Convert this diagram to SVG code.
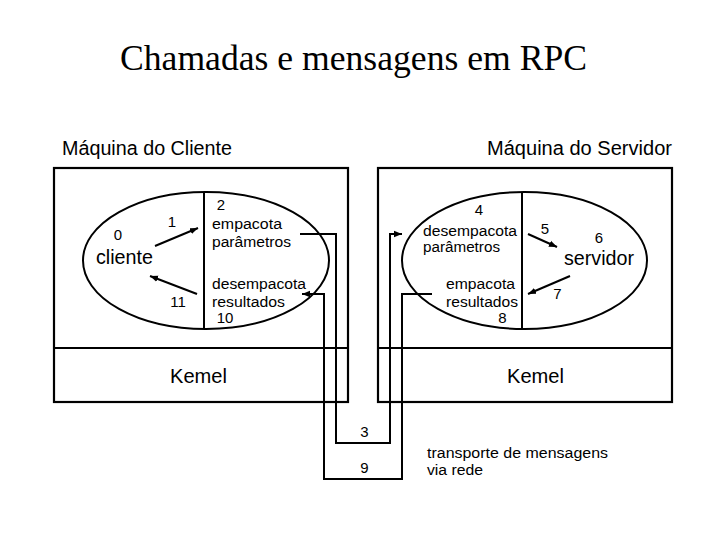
<svg xmlns="http://www.w3.org/2000/svg" width="720" height="540" viewBox="0 0 720 540">
<style>
.box{fill:none;stroke:#000;stroke-width:2.2}
.ln{fill:none;stroke:#000;stroke-width:2}
.t{font-family:"Liberation Sans",Arial,sans-serif;fill:#000}
.s{font-size:15.5px}
.d{font-size:15px}
.l{font-size:20px}
.title{font-family:"Liberation Serif","Times New Roman",serif;font-size:36px;fill:#000}
</style>
<defs>
<marker id="ah" markerUnits="userSpaceOnUse" markerWidth="9" markerHeight="8" refX="8" refY="4" orient="auto">
<path d="M0,0.8 L8,4 L0,7.2 Z" fill="#000"/>
</marker>
</defs>
<rect width="720" height="540" fill="#fff"/>
<g id="title"><text class="title" x="120" y="70" textLength="467" lengthAdjust="spacingAndGlyphs">Chamadas e mensagens em RPC</text></g>
<g id="client-machine">
<text class="t l" x="62" y="155" textLength="170" lengthAdjust="spacingAndGlyphs">Máquina do Cliente</text>
<rect class="box" x="54" y="168" width="294" height="234"/>
</g>
<g id="server-machine">
<text class="t l" x="487" y="155" textLength="185" lengthAdjust="spacingAndGlyphs">Máquina do Servidor</text>
<rect class="box" x="378" y="168" width="294" height="234"/>
</g>
<g id="client-kernel">
<line class="box" x1="54" y1="348" x2="348" y2="348"/>
<text class="t l" x="170" y="383" textLength="57" lengthAdjust="spacingAndGlyphs">Kemel</text>
</g>
<g id="server-kernel">
<line class="box" x1="378" y1="348" x2="672" y2="348"/>
<text class="t l" x="507" y="383" textLength="57" lengthAdjust="spacingAndGlyphs">Kemel</text>
</g>
<g id="client-process">
<ellipse class="ln" cx="206" cy="260.5" rx="123" ry="68.5"/>
<line class="ln" x1="204" y1="192" x2="204" y2="329"/>
<text class="t d" x="118" y="240" text-anchor="middle">0</text>
<text class="t l" x="96" y="264" textLength="57" lengthAdjust="spacingAndGlyphs">cliente</text>
<text class="t d" x="172" y="227" text-anchor="middle">1</text>
<text class="t d" x="178" y="307" text-anchor="middle">11</text>
</g>
<g id="client-stub">
<text class="t d" x="221" y="210" text-anchor="middle">2</text>
<text class="t s" x="212" y="229" textLength="70" lengthAdjust="spacingAndGlyphs">empacota</text>
<text class="t s" x="212" y="247" textLength="79" lengthAdjust="spacingAndGlyphs">parâmetros</text>
<text class="t s" x="212" y="289" textLength="94" lengthAdjust="spacingAndGlyphs">desempacota</text>
<text class="t s" x="212" y="307" textLength="73" lengthAdjust="spacingAndGlyphs">resultados</text>
<text class="t d" x="225" y="323" text-anchor="middle">10</text>
</g>
<g id="server-stub">
<ellipse class="ln" cx="524.5" cy="260.5" rx="122.5" ry="68.5"/>
<line class="ln" x1="522" y1="192" x2="522" y2="329"/>
<text class="t d" x="479" y="215" text-anchor="middle">4</text>
<text class="t s" x="423" y="236" textLength="94" lengthAdjust="spacingAndGlyphs">desempacota</text>
<text class="t s" x="423" y="252" textLength="77" lengthAdjust="spacingAndGlyphs">parâmetros</text>
<text class="t s" x="446" y="289" textLength="69" lengthAdjust="spacingAndGlyphs">empacota</text>
<text class="t s" x="446" y="307" textLength="72" lengthAdjust="spacingAndGlyphs">resultados</text>
<text class="t d" x="502.5" y="323" text-anchor="middle">8</text>
</g>
<g id="server-process">
<text class="t d" x="545" y="234" text-anchor="middle">5</text>
<text class="t d" x="599" y="243" text-anchor="middle">6</text>
<text class="t l" x="564" y="265" textLength="70" lengthAdjust="spacingAndGlyphs">servidor</text>
<text class="t d" x="557.5" y="299" text-anchor="middle">7</text>
</g>
<g id="network">
<text class="t d" x="364.5" y="437" text-anchor="middle">3</text>
<text class="t d" x="364.5" y="473" text-anchor="middle">9</text>
<text class="t s" x="427" y="458" textLength="181" lengthAdjust="spacingAndGlyphs">transporte de mensagens</text>
<text class="t s" x="427" y="475" textLength="56" lengthAdjust="spacingAndGlyphs">via rede</text>
</g>
<g id="connectors">
<line class="ln" x1="155" y1="246" x2="198" y2="228" marker-end="url(#ah)"/>
<line class="ln" x1="197" y1="294" x2="150" y2="276" marker-end="url(#ah)"/>
<line class="ln" x1="528" y1="234" x2="557" y2="247" marker-end="url(#ah)"/>
<line class="ln" x1="570" y1="276" x2="528" y2="294" marker-end="url(#ah)"/>
<polyline class="ln" points="300,234 336,234 336,443 390,443 390,234 402,234" marker-end="url(#ah)"/>
<polyline class="ln" points="432,294 402,294 402,479 324,479 324,294 302,294" marker-end="url(#ah)"/>
</g>
</svg>
